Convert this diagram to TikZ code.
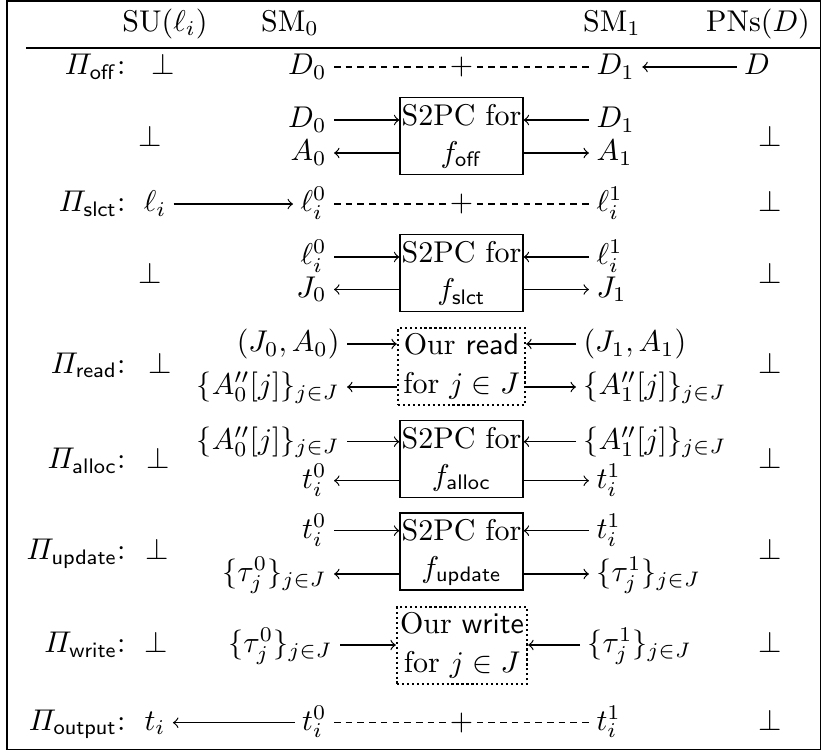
\documentclass[tikz,border=0pt]{standalone}
\usepackage{amsmath}
\begin{document}
\begin{tikzpicture}[x=0.3333pt,y=-0.3333pt,
  lft/.style={anchor=base east, inner xsep=2.3pt, inner ysep=0pt},
  rgt/.style={anchor=base west, inner xsep=2.3pt, inner ysep=0pt},
  ctr/.style={anchor=base, inner xsep=2.3pt, inner ysep=0pt},
  bot/.style={inner sep=0pt},
  lbl/.style={anchor=base east, inner sep=0pt},
  hdr/.style={anchor=base, inner sep=0pt},
  intxt/.style={anchor=base, inner sep=0pt},
  plus/.style={anchor=base, inner xsep=1pt, inner ysep=0pt},
  s2pc/.style={draw, minimum width=41pt, minimum height=25.67pt, inner sep=0pt},
  ourbox/.style={draw, line width=0.75pt, dash pattern=on 0.75pt off 0.9pt, minimum height=25.57pt, inner sep=0pt},
  share/.style={dash pattern=on 2.2pt off 1.7pt},
  msg/.style={->}
]
\useasboundingbox (0,0) rectangle (822,754);
\draw[line width=0.5pt] (7,1) rectangle (820.5,749.5);
\draw (26,48) -- (820.5,48);

% header
\node[hdr] (hsu) at (165,31) {SU($\ell_i$)};
\node[hdr] (hsm0) at (290,31) {SM$_0$};
\node[hdr] (hsm1) at (612,31) {SM$_1$};
\node[hdr] (hpn) at (758,31) {PNs($D$)};

% row axes
\coordinate (yoff) at (0,67);
\coordinate (yob1) at (0,120);
\coordinate (yob2) at (0,153);
\coordinate (ysl) at (0,204);
\coordinate (ysb1) at (0,257);
\coordinate (ysb2) at (0,289.5);
\coordinate (yrd1) at (0,344);
\coordinate (yrd2) at (0,387);
\coordinate (yal1) at (0,441.7);
\coordinate (yal2) at (0,480.7);
\coordinate (yup1) at (0,530.7);
\coordinate (yup2) at (0,574);
\coordinate (ywr) at (0,645);
\coordinate (yout) at (0,722.7);

% labels
\node[lbl] (Loff) at (126,74.5) {$\varPi_{\mathsf{off}}$:};
\node[lbl] (Lslct) at (126,211.5) {$\varPi_{\mathsf{slct}}$:};
\node[lbl] (Lread) at (126,373) {$\varPi_{\mathsf{read}}$:};
\node[lbl] (Lalloc) at (126,468.5) {$\varPi_{\mathsf{alloc}}$:};
\node[lbl] (Lupd) at (126,559.5) {$\varPi_{\mathsf{update}}$:};
\node[lbl] (Lwr) at (126,652.5) {$\varPi_{\mathsf{write}}$:};
\node[lbl] (Lout) at (126,730) {$\varPi_{\mathsf{output}}$:};

% bottoms left
\node[bot, anchor=base] (b1) at (163,74.5) {$\bot$};
\node[bot] (b2) at (150,136.5) {$\bot$};
\node[bot] (b3) at (150,273) {$\bot$};
\node[bot, anchor=base] (b4) at (160,373) {$\bot$};
\node[bot, anchor=base] (b5) at (158,468.5) {$\bot$};
\node[bot, anchor=base] (b6) at (157,559.5) {$\bot$};
\node[bot, anchor=base] (b7) at (156,652.5) {$\bot$};
% bottoms right
\node[bot] (c2) at (770,136.5) {$\bot$};
\node[bot, anchor=base] (c3) at (770,211.5) {$\bot$};
\node[bot] (c4) at (770,273) {$\bot$};
\node[bot, anchor=base] (c5) at (770,373) {$\bot$};
\node[bot, anchor=base] (c6) at (770,468.5) {$\bot$};
\node[bot, anchor=base] (c7) at (770,559.5) {$\bot$};
\node[bot, anchor=base] (c8) at (770,652.5) {$\bot$};
\node[bot, anchor=base] (c9) at (770,730) {$\bot$};

% boxes
\node[s2pc] (boff) at (461.5,135.8) {};
\node[intxt] at (461.5,125) {S2PC for};
\node[intxt] at (461.5,162) {$f_{\mathsf{off}}$};
\node[s2pc] (bslct) at (461.5,273.35) {};
\node[intxt] at (461.5,262.7) {S2PC for};
\node[intxt] at (461.5,299.7) {$f_{\mathsf{slct}}$};
\node[ourbox, minimum width=42.33pt] (bread) at (461.5,366.65) {};
\node[intxt] at (461.5,354) {Our \textsf{read}};
\node[intxt] at (461.5,393) {for $j\in J$};
\node[s2pc] (balloc) at (461.5,459.2) {};
\node[intxt] at (461.5,448.4) {S2PC for};
\node[intxt] at (461.5,485.4) {$f_{\mathsf{alloc}}$};
\node[s2pc] (bupd) at (461.5,551.5) {};
\node[intxt] at (461.5,540) {S2PC for};
\node[intxt] at (461.5,577) {$f_{\mathsf{update}}$};
\node[ourbox, minimum width=43.33pt] (bwr) at (462,645.65) {};
\node[intxt] at (462,633) {Our \textsf{write}};
\node[intxt] at (462,672) {for $j\in J$};

% Pi_off
\node[lft] (D0a) at (334,74.5) {$D_0$};
\node[plus] (poff) at (461.5,74.5) {$+$};
\node[rgt] (D1a) at (589,74.5) {$D_1$};
\node[ctr] (Da) at (757,74.5) {$D$};
\draw[share] (D0a.east |- yoff) -- (poff.west |- yoff);
\draw[share] (poff.east |- yoff) -- (D1a.west |- yoff);
\draw[msg] (Da.west |- yoff) -- (D1a.east |- yoff);

% off box
\node[lft] (D0b) at (334,127.5) {$D_0$};
\node[lft] (A0b) at (334,160.5) {$A_0$};
\node[rgt] (D1b) at (589,127.5) {$D_1$};
\node[rgt] (A1b) at (589,160.5) {$A_1$};
\draw[msg] (D0b.east |- yob1) -- (boff.west |- yob1);
\draw[msg] (boff.west |- yob2) -- (A0b.east |- yob2);
\draw[msg] (D1b.west |- yob1) -- (boff.east |- yob1);
\draw[msg] (boff.east |- yob2) -- (A1b.west |- yob2);

% Pi_slct
\node[ctr] (li) at (155,211.5) {$\ell_i$};
\node[lft] (li0a) at (334,211.5) {$\ell_i^0$};
\node[plus] (pslct) at (461.5,211.5) {$+$};
\node[rgt] (li1a) at (589,211.5) {$\ell_i^1$};
\draw[msg] (li.east |- ysl) -- (li0a.west |- ysl);
\draw[share] (li0a.east |- ysl) -- (pslct.west |- ysl);
\draw[share] (pslct.east |- ysl) -- (li1a.west |- ysl);

% slct box
\node[lft] (li0b) at (334,264.5) {$\ell_i^0$};
\node[lft] (J0b) at (334,297) {$J_0$};
\node[rgt] (li1b) at (589,264.5) {$\ell_i^1$};
\node[rgt] (J1b) at (589,297) {$J_1$};
\draw[msg] (li0b.east |- ysb1) -- (bslct.west |- ysb1);
\draw[msg] (bslct.west |- ysb2) -- (J0b.east |- ysb2);
\draw[msg] (li1b.west |- ysb1) -- (bslct.east |- ysb1);
\draw[msg] (bslct.east |- ysb2) -- (J1b.west |- ysb2);

% read
\node[lft] (JA0) at (347,351.5) {$(J_0,A_0)$};
\node[lft] (Ar0) at (347,394.5) {$\{A''_0[j]\}_{j\in J}$};
\node[rgt] (JA1) at (576,351.5) {$(J_1,A_1)$};
\node[rgt] (Ar1) at (576,394.5) {$\{A''_1[j]\}_{j\in J}$};
\draw[msg] (JA0.east |- yrd1) -- (bread.west |- yrd1);
\draw[msg] (bread.west |- yrd2) -- (Ar0.east |- yrd2);
\draw[msg] (JA1.west |- yrd1) -- (bread.east |- yrd1);
\draw[msg] (bread.east |- yrd2) -- (Ar1.west |- yrd2);

% alloc
\node[lft] (Al0) at (347,449.2) {$\{A''_0[j]\}_{j\in J}$};
\node[lft] (t0a) at (334,488.2) {$t_i^0$};
\node[rgt] (Al1) at (576,449.2) {$\{A''_1[j]\}_{j\in J}$};
\node[rgt] (t1a) at (589,488.2) {$t_i^1$};
\draw[msg] (Al0.east |- yal1) -- (balloc.west |- yal1);
\draw[msg] (balloc.west |- yal2) -- (t0a.east |- yal2);
\draw[msg] (Al1.west |- yal1) -- (balloc.east |- yal1);
\draw[msg] (balloc.east |- yal2) -- (t1a.west |- yal2);

% update
\node[lft] (t0b) at (334,538.2) {$t_i^0$};
\node[lft] (tau0a) at (334,581.5) {$\{\tau_j^0\}_{j\in J}$};
\node[rgt] (t1b) at (589,538.2) {$t_i^1$};
\node[rgt] (tau1a) at (589,581.5) {$\{\tau_j^1\}_{j\in J}$};
\draw[msg] (t0b.east |- yup1) -- (bupd.west |- yup1);
\draw[msg] (bupd.west |- yup2) -- (tau0a.east |- yup2);
\draw[msg] (t1b.west |- yup1) -- (bupd.east |- yup1);
\draw[msg] (bupd.east |- yup2) -- (tau1a.west |- yup2);

% write
\node[lft] (tau0b) at (340,652.5) {$\{\tau_j^0\}_{j\in J}$};
\node[rgt] (tau1b) at (580,652.5) {$\{\tau_j^1\}_{j\in J}$};
\draw[msg] (tau0b.east |- ywr) -- (bwr.west |- ywr);
\draw[msg] (tau1b.west |- ywr) -- (bwr.east |- ywr);

% output
\node[ctr] (ti) at (155,730) {$t_i$};
\node[lft] (t0c) at (334,730) {$t_i^0$};
\node[plus] (pout) at (461.5,730) {$+$};
\node[rgt] (t1c) at (589,730) {$t_i^1$};
\draw[msg] (t0c.west |- yout) -- (ti.east |- yout);
\draw[share] (t0c.east |- yout) -- (pout.west |- yout);
\draw[share] (pout.east |- yout) -- (t1c.west |- yout);
\end{tikzpicture}
\end{document}
